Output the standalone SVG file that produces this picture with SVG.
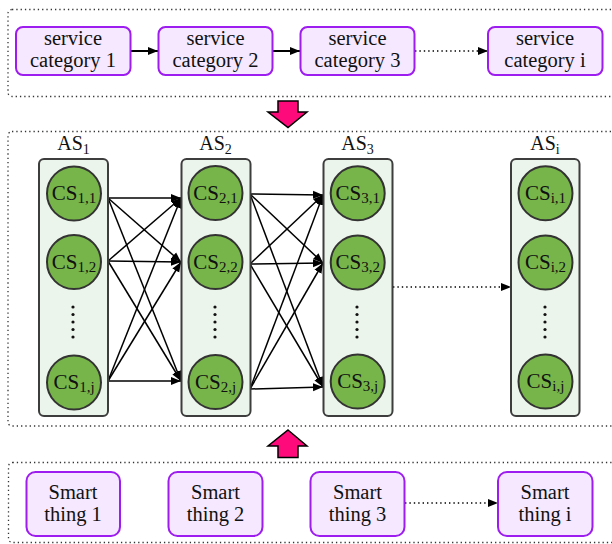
<svg xmlns="http://www.w3.org/2000/svg" width="612" height="544" viewBox="0 0 612 544" font-family="'Liberation Serif', 'Times New Roman', Times, serif">
<defs>
<style>
text{font-family:'Liberation Serif','Times New Roman',Times,serif}
.cont{fill:none;stroke:#333;stroke-width:1.3;stroke-dasharray:1.3 3}
.pbox{fill:#f5e8ff;stroke:#9d1cf0;stroke-width:2}
.as{fill:#ecf5eb;stroke:#3d3d3d;stroke-width:2}
.cs{fill:#77b54a;stroke:#333;stroke-width:2}
.t{font-size:20.5px;fill:#111;text-anchor:middle}
.lab{font-size:20px;fill:#111;text-anchor:middle}
.csl{font-size:21px;fill:#111;text-anchor:middle}
.sub{font-size:14px}
.csub{font-size:15px}
.ln{stroke:#000;stroke-width:1.5;fill:none;marker-end:url(#ah)}
.dl{stroke:#000;stroke-width:1.4;fill:none;stroke-dasharray:1.4 3;marker-end:url(#ah)}
.sl{stroke:#000;stroke-width:2;fill:none;marker-end:url(#ah)}
.big{fill:#ff0a7a;stroke:#000;stroke-width:1.5}
.dot{fill:#111}
</style>
<marker id="ah" markerUnits="userSpaceOnUse" markerWidth="12" markerHeight="10" refX="10" refY="5" orient="auto">
<path d="M0,1 L10,5 L0,9 Z" fill="#000"/>
</marker>
</defs>

<g id="containers">
<rect class="cont" x="8" y="9.5" width="612" height="87" rx="4"/>
<rect class="cont" x="8" y="131.5" width="612" height="294.5" rx="4"/>
<rect class="cont" x="8.5" y="462.5" width="612" height="80" rx="4"/>
</g>

<g id="bigarrows">
<polygon class="big" points="278,101 298,101 298,112 307,112 288,127.5 268,112 278,112"/>
<polygon class="big" points="288,430 307,446 298,446 298,457.5 278,457.5 278,446 268,446"/>
</g>

<g id="connectors">
<line class="sl" x1="131" y1="51" x2="158" y2="51"/>
<line class="sl" x1="273" y1="51" x2="300" y2="51"/>
<line class="dl" x1="415" y1="51" x2="488" y2="51"/>
<line class="dl" x1="405" y1="503" x2="498" y2="503"/>
<line class="dl" x1="393" y1="287" x2="511" y2="287"/>
<line class="ln" x1="108" y1="198" x2="181" y2="198"/>
<line class="ln" x1="108" y1="198" x2="181" y2="262"/>
<line class="ln" x1="108" y1="198" x2="181" y2="381"/>
<line class="ln" x1="108" y1="261" x2="181" y2="198"/>
<line class="ln" x1="108" y1="261" x2="181" y2="262"/>
<line class="ln" x1="108" y1="261" x2="181" y2="381"/>
<line class="ln" x1="108" y1="381" x2="181" y2="198"/>
<line class="ln" x1="108" y1="381" x2="181" y2="262"/>
<line class="ln" x1="108" y1="381" x2="181" y2="381"/>
<line class="ln" x1="250" y1="194" x2="323" y2="195"/>
<line class="ln" x1="250" y1="194" x2="323" y2="263"/>
<line class="ln" x1="250" y1="194" x2="323" y2="387"/>
<line class="ln" x1="250" y1="264" x2="323" y2="195"/>
<line class="ln" x1="250" y1="264" x2="323" y2="263"/>
<line class="ln" x1="250" y1="264" x2="323" y2="387"/>
<line class="ln" x1="250" y1="389" x2="323" y2="195"/>
<line class="ln" x1="250" y1="389" x2="323" y2="263"/>
<line class="ln" x1="250" y1="389" x2="323" y2="387"/>
</g>

<g id="sc1"><rect class="pbox" x="16" y="27" width="114.5" height="48" rx="7"/><text class="t" x="73" y="45">service</text><text class="t" x="73" y="67">category 1</text></g>
<g id="sc2"><rect class="pbox" x="158.5" y="27" width="114" height="48" rx="7"/><text class="t" x="215.5" y="45">service</text><text class="t" x="215.5" y="67">category 2</text></g>
<g id="sc3"><rect class="pbox" x="300.5" y="27" width="114" height="48" rx="7"/><text class="t" x="357.5" y="45">service</text><text class="t" x="357.5" y="67">category 3</text></g>
<g id="sci"><rect class="pbox" x="488" y="27" width="114.5" height="48" rx="7"/><text class="t" x="545" y="45">service</text><text class="t" x="545" y="67">category i</text></g>

<g id="as1">
<text class="lab" x="73.5" y="150">AS<tspan class="sub" dy="4">1</tspan></text>
<rect class="as" x="39" y="159" width="69" height="257" rx="5"/>
<circle class="cs" cx="74" cy="193.5" r="27"/><text class="csl" x="74" y="200">CS<tspan class="csub" dy="3">1,1</tspan></text>
<circle class="cs" cx="74" cy="262" r="27"/><text class="csl" x="74" y="268.5">CS<tspan class="csub" dy="3">1,2</tspan></text>
<circle class="dot" cx="73" cy="307" r="1.6"/><circle class="dot" cx="73" cy="314.5" r="1.6"/><circle class="dot" cx="73" cy="322" r="1.6"/><circle class="dot" cx="73" cy="329.5" r="1.6"/><circle class="dot" cx="73" cy="337" r="1.6"/>
<circle class="cs" cx="74" cy="382.5" r="27"/><text class="csl" x="74" y="389">CS<tspan class="csub" dy="3">1,j</tspan></text>
</g>

<g id="as2">
<text class="lab" x="215.5" y="150">AS<tspan class="sub" dy="4">2</tspan></text>
<rect class="as" x="181.5" y="159" width="69" height="257" rx="5"/>
<circle class="cs" cx="215.5" cy="193" r="27"/><text class="csl" x="215.5" y="199.5">CS<tspan class="csub" dy="3">2,1</tspan></text>
<circle class="cs" cx="215.5" cy="262" r="27"/><text class="csl" x="215.5" y="268.5">CS<tspan class="csub" dy="3">2,2</tspan></text>
<circle class="dot" cx="215" cy="307" r="1.6"/><circle class="dot" cx="215" cy="314.5" r="1.6"/><circle class="dot" cx="215" cy="322" r="1.6"/><circle class="dot" cx="215" cy="329.5" r="1.6"/><circle class="dot" cx="215" cy="337" r="1.6"/>
<circle class="cs" cx="215.5" cy="382" r="27"/><text class="csl" x="215.5" y="388.5">CS<tspan class="csub" dy="3">2,j</tspan></text>
</g>

<g id="as3">
<text class="lab" x="357.5" y="150">AS<tspan class="sub" dy="4">3</tspan></text>
<rect class="as" x="323.5" y="159" width="69" height="257" rx="5"/>
<circle class="cs" cx="357.7" cy="193.3" r="27"/><text class="csl" x="357.7" y="199.8">CS<tspan class="csub" dy="3">3,1</tspan></text>
<circle class="cs" cx="357.7" cy="262.5" r="27"/><text class="csl" x="357.7" y="269">CS<tspan class="csub" dy="3">3,2</tspan></text>
<circle class="dot" cx="357" cy="307" r="1.6"/><circle class="dot" cx="357" cy="314.5" r="1.6"/><circle class="dot" cx="357" cy="322" r="1.6"/><circle class="dot" cx="357" cy="329.5" r="1.6"/><circle class="dot" cx="357" cy="337" r="1.6"/>
<circle class="cs" cx="357.7" cy="381.5" r="27"/><text class="csl" x="357.7" y="388">CS<tspan class="csub" dy="3">3,j</tspan></text>
</g>

<g id="asi">
<text class="lab" x="545" y="150">AS<tspan class="sub" dy="4">i</tspan></text>
<rect class="as" x="511" y="159" width="68.5" height="257" rx="5"/>
<circle class="cs" cx="545.5" cy="193.3" r="27"/><text class="csl" x="545.5" y="199.8">CS<tspan class="csub" dy="3">i,1</tspan></text>
<circle class="cs" cx="545.5" cy="262.5" r="27"/><text class="csl" x="545.5" y="269">CS<tspan class="csub" dy="3">i,2</tspan></text>
<circle class="dot" cx="545" cy="307" r="1.6"/><circle class="dot" cx="545" cy="314.5" r="1.6"/><circle class="dot" cx="545" cy="322" r="1.6"/><circle class="dot" cx="545" cy="329.5" r="1.6"/><circle class="dot" cx="545" cy="337" r="1.6"/>
<circle class="cs" cx="545.5" cy="381.5" r="27"/><text class="csl" x="545.5" y="388">CS<tspan class="csub" dy="3">i,j</tspan></text>
</g>

<g id="st1"><rect class="pbox" x="26.5" y="472" width="93.5" height="64" rx="9"/><text class="t" x="73" y="498.5">Smart</text><text class="t" x="73" y="521">thing 1</text></g>
<g id="st2"><rect class="pbox" x="168.5" y="472" width="94" height="64" rx="9"/><text class="t" x="215.5" y="498.5">Smart</text><text class="t" x="215.5" y="521">thing 2</text></g>
<g id="st3"><rect class="pbox" x="310.5" y="472" width="94" height="64" rx="9"/><text class="t" x="357.5" y="498.5">Smart</text><text class="t" x="357.5" y="521">thing 3</text></g>
<g id="sti"><rect class="pbox" x="498" y="472" width="94.5" height="64" rx="9"/><text class="t" x="545" y="498.5">Smart</text><text class="t" x="545" y="521">thing i</text></g>
</svg>
